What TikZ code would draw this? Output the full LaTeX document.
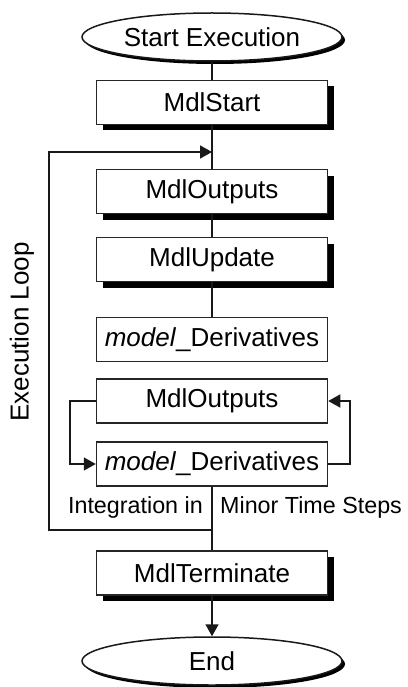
\documentclass[tikz,border=0pt]{standalone}
\usepackage{fontspec}
\setmainfont{Liberation Sans}
\usetikzlibrary{
    arrows.meta,
    shapes.geometric,
    shadows,
    positioning
}
\newcommand{\flowfont}{\fontsize{26}{30}\selectfont}
\newcommand{\notefont}{\fontsize{23.3}{28}\selectfont}
\tikzstyle{terminal} = [
    ellipse,
    draw=black!90,
    line width=1.5pt,
    fill=white,
    minimum width=260pt,
    minimum height=48pt,
    inner sep=0pt,
    font=\flowfont,
    drop shadow={shadow xshift=3pt, shadow yshift=-3pt, fill=black, opacity=1}
]
\tikzstyle{routine} = [
    rectangle,
    draw=black!85,
    line width=1.5pt,
    fill=white,
    minimum width=231pt,
    minimum height=44pt,
    inner sep=2pt,
    font=\flowfont,
    drop shadow={shadow xshift=6pt, shadow yshift=-6pt, fill=black, opacity=1}
]
\tikzstyle{plainroutine} = [
    rectangle,
    draw=black!85,
    line width=1.5pt,
    fill=white,
    minimum width=231pt,
    minimum height=44pt,
    inner sep=2pt,
    font=\flowfont
]
\tikzstyle{link} = [
    line width=1.6pt,
    draw=black!90
]
\tikzstyle{arrow} = [
    link,
    -{Triangle[length=12pt, width=13pt]}
]
\tikzstyle{caption} = [
    font=\notefont,
    inner sep=0pt
]

\begin{document}
\begin{tikzpicture}[x=1pt, y=-1pt]
    \useasboundingbox (0,0) rectangle (407,687);

    % Start and end of execution
    \node[terminal] (start) at (212,37) {Start Execution};
    \node[terminal] (finish) at (212,661) {End};

    % Main routines
    \node[routine] (mdlstart) at (212,102.5) {MdlStart};
    \node[routine] (outputs) at (212,191.5) {MdlOutputs};
    \node[routine] (update) at (212,259.5) {MdlUpdate};
    \node[plainroutine] (deriv) at (212,339.5) {\textit{model}\_Derivatives};

    % Minor time step block
    \node[plainroutine] (minout) at (212,401) {MdlOutputs};
    \node[plainroutine] (minderiv) at (212,464) {\textit{model}\_Derivatives};

    \node[routine] (terminate) at (212,573) {MdlTerminate};

    % Loop points
    \coordinate (join) at (212,152);
    \coordinate (split) at (212,530);
    \coordinate (label) at (212,507);

    % Straight connections
    \draw[link] (start) -- (mdlstart);
    \draw[link] (mdlstart) -- (outputs);
    \draw[link] (outputs) -- (update);
    \draw[link] (update) -- (deriv);
    \draw[link] (minderiv) -- (terminate);
    \draw[arrow] (terminate) -- (finish);

    % Execution loop
    \draw[arrow] (split) -- (49,530) -- (49,152) -- (join);
    \node[caption, font=\flowfont, rotate=90] (exloop) at (22,332) {Execution Loop};

    % Integration loop
    \draw[arrow] (minout.west) -- (70,401) -- (70,464) -- (minderiv.west);
    \draw[arrow] (minderiv.east) -- (350,464) -- (350,401) -- (minout.east);
    \node[caption, left=9pt of label] (intin) {Integration in};
    \node[caption, right=8pt of label] (minor) {Minor Time Steps};
\end{tikzpicture}
\end{document}
